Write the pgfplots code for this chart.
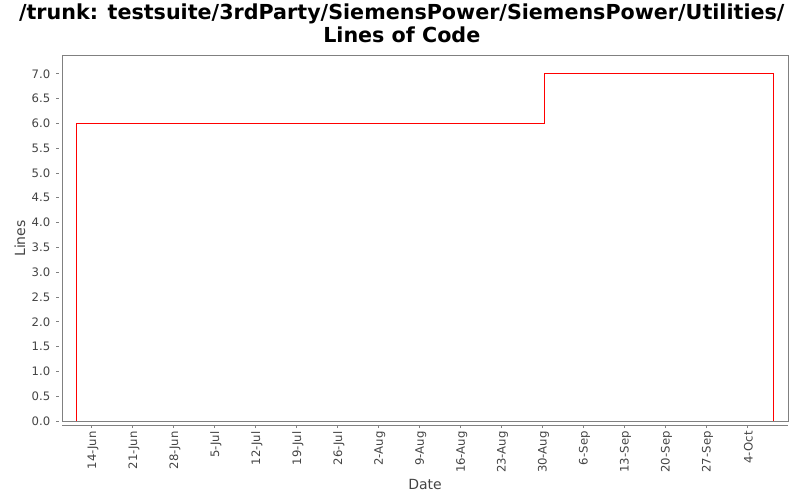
\documentclass[border=0pt]{standalone}
\usepackage{fontspec}
\usepackage{pgfplots}
\pgfplotsset{compat=1.18}
\setmainfont{DejaVu Sans}
\definecolor{framegray}{HTML}{808080}
\definecolor{labelgray}{HTML}{444444}

\begin{document}
\begin{tikzpicture}
% 1px = 0.75pt, picture is 800x500 px
\path[use as bounding box] (0,0) rectangle (600pt,375pt);
\begin{axis}[
    at={(46.5pt,59.25pt)}, anchor=south west,
    scale only axis,
    width=544.5pt, height=273.75pt,
    xmin=-5.07, xmax=119.0,
    ymin=0, ymax=7.36,
    clip=false,
    axis line style={framegray, line width=0.75pt},
    tick align=outside,
    xtick pos=bottom, ytick pos=left,
    major tick length=2.25pt,
    xtick={0,7,...,112},
    xticklabels={14-Jun,21-Jun,28-Jun,5-Jul,12-Jul,19-Jul,26-Jul,2-Aug,9-Aug,16-Aug,23-Aug,30-Aug,6-Sep,13-Sep,20-Sep,27-Sep,4-Oct},
    ytick={0,0.5,...,7.0},
    yticklabel={\pgfmathprintnumber[fixed,fixed zerofill,precision=1]{\tick}},
    xtick style={framegray, line width=0.75pt, yshift=-3pt},
    ytick style={framegray, line width=0.75pt, xshift=-2.25pt},
    xticklabel style={font=\fontsize{8.75}{10}\selectfont, text=labelgray, rotate=90, anchor=east, xshift=-2pt, yshift=-1pt},
    yticklabel style={font=\fontsize{8.75}{10}\selectfont, text=labelgray, xshift=-3pt},
    /pgf/number format/assume math mode=true,
    xlabel={Date},
    ylabel={Lines},
    xlabel style={font=\fontsize{10.5}{12}\selectfont, text=labelgray, at={(axis description cs:0.5,-0.175)}, anchor=center},
    ylabel style={font=\fontsize{10.5}{12}\selectfont, text=labelgray, at={(axis description cs:-0.058,0.5)}, anchor=center},
    title={/trunk: testsuite/3rdParty/SiemensPower/SiemensPower/Utilities/\\[-1pt]Lines of Code},
    title style={font=\bfseries\fontsize{15.5}{18}\selectfont, align=center, at={(axis description cs:0.468,1.068)}, anchor=center},
]
\addplot[red, line width=0.75pt] coordinates {
    (-2.6,0) (-2.6,6) (77.4,6) (77.4,7) (116.5,7) (116.5,0)
};
\draw[framegray, line width=0.75pt] ([yshift=-3pt]rel axis cs:0,0) -- ([yshift=-3pt]rel axis cs:1,0);
\end{axis}
\end{tikzpicture}
\end{document}
